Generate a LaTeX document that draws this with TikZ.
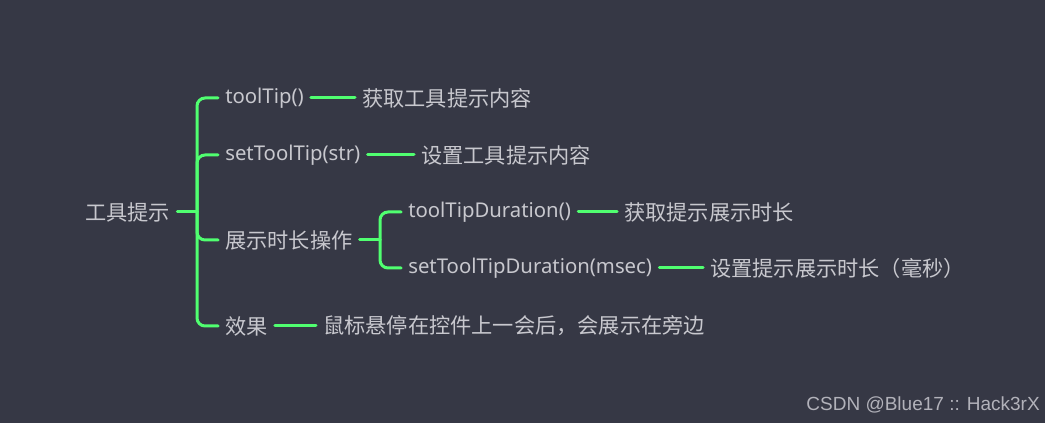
\documentclass[tikz,border=0pt]{standalone}
\usepackage{fontspec}
\setmainfont{Noto Sans}
\newfontfamily\cjk{Noto Sans CJK SC}
\newfontfamily\wmfont{Liberation Sans}
\usetikzlibrary{calc}
\definecolor{bg}{RGB}{54,56,69}
\definecolor{lnk}{RGB}{80,255,112}
\definecolor{txt}{RGB}{200,200,206}
\definecolor{wm}{RGB}{178,178,186}
\begin{document}
\begin{tikzpicture}[x=0.75pt,y=-0.75pt,
  lbl/.style={text=txt,inner xsep=5.25pt,inner ysep=0pt,anchor=west,font=\fontsize{15.25}{18}\selectfont},
  zh/.style={lbl,font=\cjk\fontsize{15.9}{18}\selectfont},
  link/.style={draw=lnk,line width=2.25pt,line cap=round,rounded corners=6pt}]
\fill[bg] (0,0) rectangle (1045,423);
% root and first level
\node[zh] (root) at (78,212) {工具提示};
\node[lbl] (tip) at (218,98) {toolTip()};
\node[lbl] (settip) at (218,155) {setToolTip(str)};
\node[zh] (dur) at (218,240) {展示时长操作};
\node[zh] (eff) at (218,326) {效果};
% second level
\node[lbl] (tipdur) at (401,212) {toolTipDuration()};
\node[lbl] (settipdur) at (401,268) {setToolTipDuration(msec)};
% leaves
\node[zh] (tipd) at (355,98) {获取工具提示内容};
\node[zh] (settipd) at (414,155) {设置工具提示内容};
\node[zh] (tipdurd) at (617,212) {获取提示展示时长};
\node[zh] (settipdurd) at (703,268) {设置提示展示时长（毫秒）};
\node[zh] (effd) at (316,326) {鼠标悬停在控件上一会后，会展示在旁边};
% connectors
\coordinate (rj) at (197,212);
\coordinate (dj) at (380,240);
\draw[link] (root.east) -- (rj);
\foreach \n in {tip,settip,dur,eff}
  \draw[link] (rj) |- (\n.west);
\draw[link] (dur.east) -- (dj);
\foreach \n in {tipdur,settipdur}
  \draw[link] (dj) |- (\n.west);
\draw[link] (tip.east) -- (tipd.west);
\draw[link] (settip.east) -- (settipd.west);
\draw[link] (tipdur.east) -- (tipdurd.west);
\draw[link] (settipdur.east) -- (settipdurd.west);
\draw[link] (eff.east) -- (effd.west);
\node[anchor=east,inner sep=0pt,text=wm,font=\wmfont\fontsize{14.25}{16}\selectfont] (mark) at (1040,405) {CSDN @Blue17 :: Hack3rX};
\end{tikzpicture}
\end{document}
